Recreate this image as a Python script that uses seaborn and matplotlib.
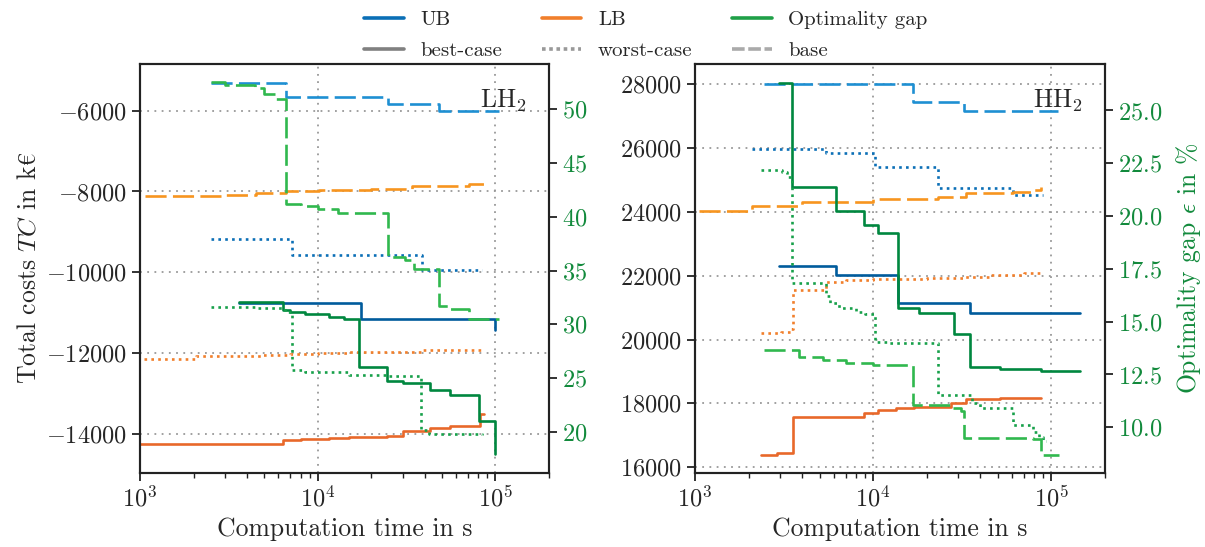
import matplotlib
matplotlib.use("Agg")
import matplotlib.pyplot as plt
from matplotlib.lines import Line2D
from matplotlib.ticker import FuncFormatter, LogLocator, NullFormatter, FixedLocator
import numpy as np
import pandas as pd
import seaborn as sns

# ---------------- data: (time in s, value) step series ----------------
# LH2 case
lh2_ub_best_t = [3600, 17400, 100000]
lh2_ub_best_v = [-10755, -11150, -11415]
lh2_ub_worst_t = [2500, 7180, 38500, 83800]
lh2_ub_worst_v = [-9175, -9563, -9933, -9933]
lh2_ub_base_t = [2500, 6640, 24850, 47900, 104000]
lh2_ub_base_v = [-5320, -5670, -5835, -6000, -6000]

lh2_lb_best_t = [1000, 6350, 8000, 11500, 15000, 24560, 30000, 42900, 55600, 81500, 86000]
lh2_lb_best_v = [-14230, -14150, -14120, -14090, -14070, -14050, -13910, -13850, -13790, -13495, -13495]
lh2_lb_worst_t = [1050, 2055, 3000, 4860, 7000, 10000, 15000, 25000, 38500, 85700]
lh2_lb_worst_v = [-12140, -12075, -12060, -12030, -12010, -11990, -11975, -11960, -11910, -11910]
lh2_lb_base_t = [1065, 2000, 3000, 4470, 6640, 10100, 20000, 33900, 50000, 70500, 85700]
lh2_lb_base_v = [-8123, -8110, -8080, -8040, -8000, -7958, -7930, -7877, -7865, -7810, -7810]

lh2_gap_best_t = [3600, 6350, 7000, 8500, 11500, 14000, 17000, 24560, 30000, 42900, 55600, 80900, 99500]
lh2_gap_best_v = [32.03, 31.35, 31.1, 30.98, 30.7, 30.5, 26.0, 24.69, 24.54, 23.92, 23.4, 21.03, 17.96]
lh2_gap_worst_t = [2500, 4500, 6580, 7180, 8500, 15000, 25000, 38300, 42000, 83800]
lh2_gap_worst_v = [31.6, 31.5, 31.1, 25.77, 25.52, 25.3, 25.15, 20.2, 19.83, 19.7]
lh2_gap_base_t = [2500, 3000, 4430, 5000, 5800, 6620, 8000, 10000, 13000, 24850,
                  31000, 34600, 47900, 55000, 70500, 104000]
lh2_gap_base_v = [52.5, 52.26, 51.95, 51.42, 50.9, 41.2, 41.0, 40.7, 40.36, 36.25,
                  36.0, 35.13, 31.66, 31.4, 30.48, 30.48]

# HH2 case
hh2_ub_best_t = [2966, 6180, 13800, 35000, 144000]
hh2_ub_best_v = [22313, 22012, 21137, 20823, 20823]
hh2_ub_worst_t = [2100, 5430, 10280, 23000, 60800, 89600]
hh2_ub_worst_v = [25956, 25830, 25410, 24755, 24525, 24525]
hh2_ub_base_t = [2444, 16680, 32500, 108700]
hh2_ub_base_v = [28000, 27446, 27165, 27165]

hh2_lb_best_t = [2338, 2903, 3558, 8910, 10700, 13500, 17000, 27500, 33000, 51200, 87700]
hh2_lb_best_v = [16388, 16441, 17568, 17694, 17797, 17850, 17900, 18005, 18130, 18160, 18160]
hh2_lb_worst_t = [2338, 3033, 3480, 3558, 5430, 7000, 10000, 20000, 31800, 45000, 70000, 85900]
hh2_lb_worst_v = [20193, 20230, 20319, 21553, 21813, 21866, 21887, 21920, 21950, 22022, 22100, 22178]
hh2_lb_base_t = [1052, 2100, 4010, 10000, 23000, 33300, 60800, 80000, 87700]
hh2_lb_base_v = [24035, 24191, 24316, 24410, 24473, 24598, 24620, 24680, 24770]

hh2_gap_best_t = [2966, 3525, 6180, 8910, 10590, 13700, 18150, 28600, 35000, 51200, 87700, 144000]
hh2_gap_best_v = [26.3, 21.37, 20.22, 19.59, 19.22, 15.64, 15.41, 14.43, 12.85, 12.75, 12.66, 12.66]
hh2_gap_worst_t = [2338, 3097, 3300, 3525, 5430, 5700, 6440, 8000, 9000, 10300, 12000, 23000,
                   36000, 40000, 60800, 78700, 85000, 90000, 93500]
hh2_gap_worst_v = [22.16, 22.1, 21.85, 16.83, 16.2, 15.88, 15.64, 15.48, 15.37, 14.06, 13.99, 11.54,
                   11.15, 10.91, 10.12, 9.8, 9.56, 9.33, 9.33]
hh2_gap_base_t = [2444, 3848, 5200, 7000, 10000, 16680, 28000, 31000, 32500, 78700, 87700, 111000]
hh2_gap_base_v = [13.67, 13.35, 13.2, 13.05, 12.96, 11.07, 10.9, 10.75, 9.49, 9.44, 8.7, 8.7]

panel_names = ["LH$_2$", "HH$_2$"]
cases = ["best-case", "worst-case", "base"]
quantities = ["UB", "LB", "Optimality gap"]

# ---------------- style ----------------
sns.set_style("ticks")
plt.rcParams["font.family"] = ["cmr10", "DejaVu Serif"]
plt.rcParams["mathtext.fontset"] = "cm"
plt.rcParams["axes.formatter.use_mathtext"] = True
plt.rcParams["axes.unicode_minus"] = False
FS = 17.5
FS_LAB = 18.5
FS_LEG = 15

colors = {
    "UB":  {"best-case": "#005b9c", "worst-case": "#0b6fb6", "base": "#1e8fd2"},
    "LB":  {"best-case": "#e8682a", "worst-case": "#f17f2b", "base": "#f7951f"},
    "Optimality gap": {"best-case": "#00873f", "worst-case": "#17a04a", "base": "#30b84e"},
}
styles = {"best-case": "-", "worst-case": (0, (1.0, 1.6)), "base": (0, (8.0, 2.4))}
gap_color = "#128a3c"

series = {
    0: {"UB": {"best-case": (lh2_ub_best_t, lh2_ub_best_v),
               "worst-case": (lh2_ub_worst_t, lh2_ub_worst_v),
               "base": (lh2_ub_base_t, lh2_ub_base_v)},
        "LB": {"best-case": (lh2_lb_best_t, lh2_lb_best_v),
               "worst-case": (lh2_lb_worst_t, lh2_lb_worst_v),
               "base": (lh2_lb_base_t, lh2_lb_base_v)},
        "Optimality gap": {"best-case": (lh2_gap_best_t, lh2_gap_best_v),
                           "worst-case": (lh2_gap_worst_t, lh2_gap_worst_v),
                           "base": (lh2_gap_base_t, lh2_gap_base_v)}},
    1: {"UB": {"best-case": (hh2_ub_best_t, hh2_ub_best_v),
               "worst-case": (hh2_ub_worst_t, hh2_ub_worst_v),
               "base": (hh2_ub_base_t, hh2_ub_base_v)},
        "LB": {"best-case": (hh2_lb_best_t, hh2_lb_best_v),
               "worst-case": (hh2_lb_worst_t, hh2_lb_worst_v),
               "base": (hh2_lb_base_t, hh2_lb_base_v)},
        "Optimality gap": {"best-case": (hh2_gap_best_t, hh2_gap_best_v),
                           "worst-case": (hh2_gap_worst_t, hh2_gap_worst_v),
                           "base": (hh2_gap_base_t, hh2_gap_base_v)}},
}

cost_lims = [(-14950, -4850), (15830, 28630)]
cost_ticks = [[-14000, -12000, -10000, -8000, -6000],
              [16000, 18000, 20000, 22000, 24000, 26000, 28000]]
gap_lims = [(16.2, 54.2), (7.85, 27.2)]
gap_ticks = [[20, 25, 30, 35, 40, 45, 50], [10.0, 12.5, 15.0, 17.5, 20.0, 22.5, 25.0]]
gap_fmt = ["{:.0f}", "{:.1f}"]

W, H = 1205, 547
fig = plt.figure(figsize=(W / 100, H / 100), dpi=100)
rects = [(140, 64, 549, 472.7), (695, 64, 1105, 472.7)]

LW = 1.9
for i, (x0, y0, x1, y1) in enumerate(rects):
    ax = fig.add_axes([x0 / W, 1 - y1 / H, (x1 - x0) / W, (y1 - y0) / H])
    axr = ax.twinx()
    for q in ["UB", "LB"]:
        for c in cases:
            t, v = series[i][q][c]
            df = pd.DataFrame({"t": t, "v": v})
            sns.lineplot(data=df, x="t", y="v", ax=ax, estimator=None, sort=False,
                         drawstyle="steps-post", color=colors[q][c],
                         linestyle=styles[c], lw=LW)
    for c in cases:
        t, v = series[i]["Optimality gap"][c]
        df = pd.DataFrame({"t": t, "v": v})
        sns.lineplot(data=df, x="t", y="v", ax=axr, estimator=None, sort=False,
                     drawstyle="steps-post", color=colors["Optimality gap"][c],
                     linestyle=styles[c], lw=LW)

    for a in (ax, axr):
        a.set_xscale("log")
        a.set_xlim(1e3, 2e5)
        for s in a.spines.values():
            s.set_linewidth(1.5)
            s.set_color("#222222")
            s.set_visible(True)
    ax.set_ylim(*cost_lims[i])
    ax.yaxis.set_major_locator(FixedLocator(cost_ticks[i]))
    ax.yaxis.set_major_formatter(FuncFormatter(lambda v, p: f"${v:.0f}$"))
    axr.set_ylim(*gap_lims[i])
    axr.yaxis.set_major_locator(FixedLocator(gap_ticks[i]))
    fmt = gap_fmt[i]
    axr.yaxis.set_major_formatter(FuncFormatter(lambda v, p, fmt=fmt: "$" + fmt.format(v) + "$"))
    ax.xaxis.set_major_locator(LogLocator(base=10, numticks=10))
    ax.xaxis.set_minor_locator(LogLocator(base=10, subs=np.arange(2, 10), numticks=10))
    ax.xaxis.set_minor_formatter(NullFormatter())
    ax.tick_params(axis="both", which="major", direction="out", length=6, width=1.3,
                   labelsize=FS, color="#222222")
    ax.tick_params(axis="x", which="minor", direction="out", length=3.5, width=1.0,
                   color="#222222")
    axr.tick_params(axis="y", which="major", direction="out", length=6, width=1.3,
                    labelsize=FS, labelcolor=gap_color, color="#222222")
    ax.grid(True, which="major", linestyle=(0, (1, 3)), color="#999999", lw=1.3)
    ax.set_axisbelow(True)
    ax.set_xlabel("Computation time in s", fontsize=FS_LAB)
    ax.set_ylabel("")
    axr.set_ylabel("")
    axr.set_xlabel("")
    ax.text(0.945, 0.91, panel_names[i], transform=ax.transAxes, ha="right", va="center",
            fontsize=FS + 1)
    if i == 0:
        ax.set_ylabel("Total costs $TC$ in k$€$", fontsize=FS_LAB)
    else:
        axr.set_ylabel(r"Optimality gap $\epsilon$ in %", fontsize=FS_LAB, color=gap_color,
                       labelpad=8)

# legend: quantities by colour, cases by line style
handles = [
    Line2D([], [], color=colors["UB"]["worst-case"], lw=2.6),
    Line2D([], [], color="#808080", lw=2.6, linestyle="-"),
    Line2D([], [], color=colors["LB"]["worst-case"], lw=2.6),
    Line2D([], [], color="#999999", lw=2.6, linestyle=(0, (1.0, 1.0))),
    Line2D([], [], color="#20a048", lw=2.6),
    Line2D([], [], color="#aaaaaa", lw=2.6, linestyle=(0, (3.5, 1.0))),
]
labels = ["UB", "best-case", "LB", "worst-case", "Optimality gap", "base"]
fig.legend(handles, labels, loc="upper center", bbox_to_anchor=(0.536, 1.015), ncol=3,
           frameon=False, fontsize=FS_LEG, handlelength=1.9, columnspacing=1.9,
           handletextpad=0.8, labelspacing=0.6)

fig.savefig("out.png", dpi=100)
